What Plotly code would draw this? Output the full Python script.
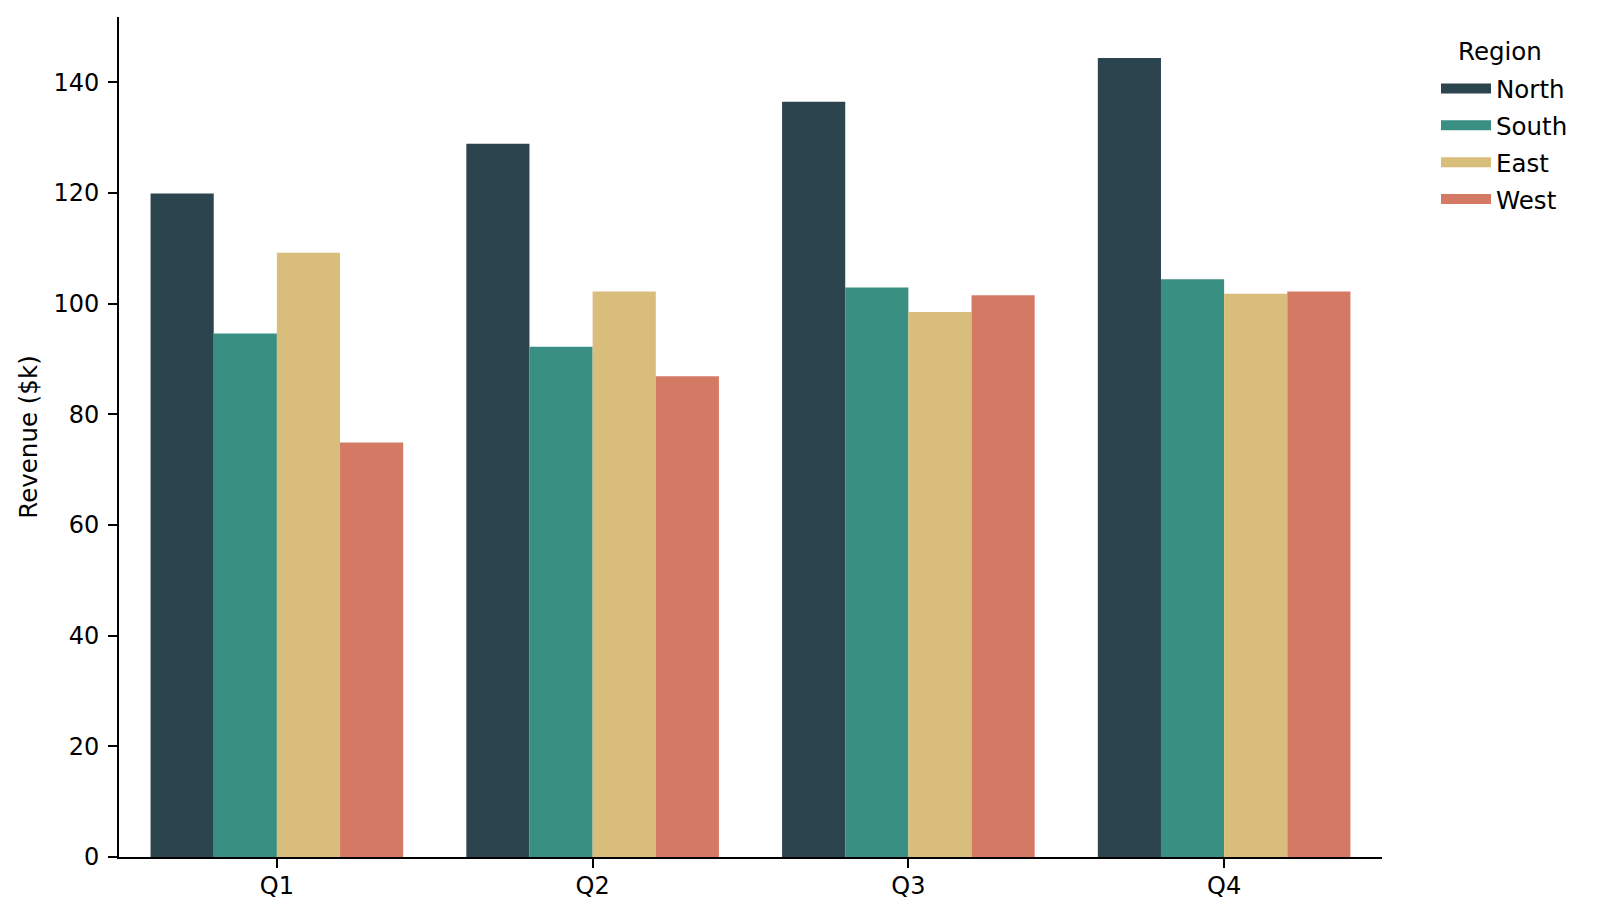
import plotly.graph_objects as go

quarters = ["Q1", "Q2", "Q3", "Q4"]
regions = ["North", "South", "East", "West"]

north = [119.9, 128.9, 136.5, 144.4]
south = [94.6, 92.2, 102.9, 104.4]
east = [109.2, 102.2, 98.5, 101.8]
west = [74.9, 86.9, 101.5, 102.2]

colors = ["#2C444D", "#388F82", "#D9BD7A", "#D47A64"]

# the page body has an 8px margin, so the figure is shifted by that much
OFF = 8
W, H = 1599 - OFF, 918 - OFF
L, R, T, B = 119 - OFF, 217, 17 - OFF, 61

fig = go.Figure()
for name, vals, col in zip(regions, [north, south, east, west], colors):
    fig.add_trace(go.Bar(x=quarters, y=vals, name=name, marker_color=col,
                         marker_line_width=0, showlegend=False))
    # legend proxy: thick line looks closer to matplotlib's patch
    fig.add_trace(go.Scatter(x=[None], y=[None], mode="lines", name=name,
                             line=dict(color=col, width=17), legendgroup=name))

font = "DejaVu Sans"
fig.update_layout(
    width=W, height=H,
    barmode="group", bargap=0.2, bargroupgap=0,
    plot_bgcolor="white", paper_bgcolor="white",
    font=dict(family=font, size=24, color="black"),
    margin=dict(l=L, r=R, t=T, b=B, pad=0),
    legend=dict(
        x=(1436 - OFF) / W, xref="container", xanchor="left",
        y=1 - (66 - OFF) / H, yref="container", yanchor="top",
        tracegroupgap=2, itemwidth=50,
        font=dict(size=24.5),
    ),
    showlegend=True,
)
# legend title, centred over the entries like matplotlib does
pw, ph = W - L - R, H - T - B
fig.add_annotation(
    text="Region", showarrow=False, font=dict(size=24.5),
    xref="paper", yref="paper",
    x=(1500 - OFF - L) / pw, y=1 - (52 - OFF - T) / ph,
    xanchor="center", yanchor="middle",
)
fig.update_xaxes(
    range=[-0.5, 3.5], showline=True, linecolor="black", linewidth=1.8,
    ticks="outside", ticklen=9, tickwidth=1.8, tickcolor="black",
    tickfont=dict(size=24), ticklabelstandoff=-3,
    showgrid=False, zeroline=False,
)
fig.update_yaxes(
    range=[0, 151.8], showline=True, linecolor="black", linewidth=1.8,
    ticks="outside", ticklen=9, tickwidth=1.8, tickcolor="black",
    tickfont=dict(size=24), ticklabelstandoff=4,
    tickvals=[0, 20, 40, 60, 80, 100, 120, 140],
    showgrid=False, zeroline=False,
    title=dict(text="Revenue ($k)", standoff=9, font=dict(size=24.5)),
)

fig.write_html("out.html")
